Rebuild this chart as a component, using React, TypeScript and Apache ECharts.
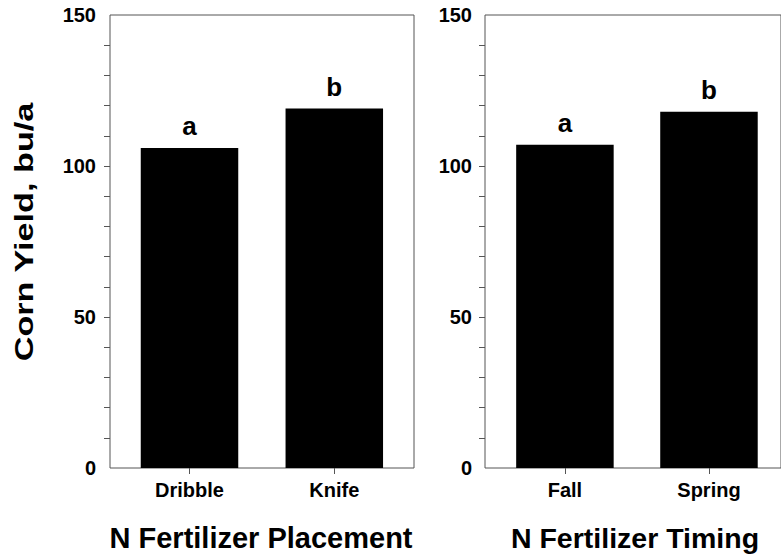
import React, { useEffect, useRef } from "react";
import * as echarts from "echarts";

const placementCategories = ["Dribble", "Knife"];
const placementYield = [106, 119];
const placementLetters = ["a", "b"];

const timingCategories = ["Fall", "Spring"];
const timingYield = [107, 118];
const timingLetters = ["a", "b"];

const yLabelValues = [0, 50, 100, 150];
const yTickValues = [10, 20, 30, 40, 50, 60, 70, 80, 90, 100, 110, 120, 130, 140];

const yTitle = "Corn Yield, bu/a";
const placementTitle = "N Fertilizer Placement";
const timingTitle = "N Fertilizer Timing";

const FONT = "'Liberation Sans', Arial, Helvetica, sans-serif";
const GRAY = "#555";

export default function App() {
  const ref = useRef<HTMLDivElement>(null);

  useEffect(() => {
    if (!ref.current) return;
    const chart = echarts.init(ref.current, undefined, { renderer: "svg" });

    const frameTop = 15;
    const frameHeight = 453;

    const frameYAxis = (gridIndex: number, margin: number) => ({
      type: "value",
      gridIndex,
      min: 0,
      max: 150,
      interval: 50,
      axisLine: { show: false },
      splitLine: { show: false },
      axisTick: {
        show: true,
        inside: false,
        length: 6,
        customValues: yTickValues,
        lineStyle: { color: GRAY, width: 1 },
      },
      axisLabel: {
        show: true,
        customValues: yLabelValues,
        margin,
        color: "#000",
        fontFamily: FONT,
        fontWeight: "bold",
        fontSize: 20,
        verticalAlign: "middle",
        padding: [6, 0, 0, 0],
      },
    });

    const hiddenValueY = (gridIndex: number) => ({
      type: "value",
      gridIndex,
      min: 0,
      max: 150,
      show: false,
    });

    const hiddenCatX = (gridIndex: number) => ({
      type: "category",
      gridIndex,
      data: ["", ""],
      show: false,
    });

    const barCatX = (gridIndex: number, data: string[]) => ({
      type: "category",
      gridIndex,
      data,
      axisLine: { show: false },
      axisTick: {
        show: true,
        alignWithLabel: true,
        length: 6,
        lineStyle: { color: GRAY, width: 1 },
      },
      axisLabel: {
        margin: 12,
        color: "#000",
        fontFamily: FONT,
        fontWeight: "bold",
        fontSize: 20,
      },
      splitLine: { show: false },
    });

    const barSeries = (idx: number, values: number[], letters: string[]) => ({
      type: "bar",
      xAxisIndex: idx,
      yAxisIndex: idx,
      barWidth: 97.5,
      itemStyle: { color: "#000" },
      label: {
        show: true,
        position: "top",
        distance: 9,
        color: "#000",
        fontFamily: FONT,
        fontWeight: "bold",
        fontSize: 26,
        formatter: (p: any) => letters[p.dataIndex],
      },
      data: values,
    });

    chart.setOption({
      animation: false,
      backgroundColor: "#fff",
      grid: [
        { left: 110, top: frameTop, width: 304, height: frameHeight, show: true, borderColor: GRAY, borderWidth: 1, backgroundColor: "transparent" },
        { left: 117.1, top: frameTop, width: 289.6, height: frameHeight },
        { left: 485, top: frameTop, width: 304, height: frameHeight, show: true, borderColor: GRAY, borderWidth: 1, backgroundColor: "transparent" },
        { left: 492.9, top: frameTop, width: 288.6, height: frameHeight },
      ],
      xAxis: [
        hiddenCatX(0),
        barCatX(1, placementCategories),
        hiddenCatX(2),
        barCatX(3, timingCategories),
      ],
      yAxis: [
        frameYAxis(0, 14),
        hiddenValueY(1),
        frameYAxis(2, 13),
        hiddenValueY(3),
      ],
      series: [
        { type: "bar", xAxisIndex: 0, yAxisIndex: 0, data: [] },
        barSeries(1, placementYield, placementLetters),
        { type: "bar", xAxisIndex: 2, yAxisIndex: 2, data: [] },
        barSeries(3, timingYield, timingLetters),
      ],
      graphic: [
        {
          type: "text",
          x: 24,
          y: 232,
          rotation: Math.PI / 2,
          scaleX: 1.37,
          style: {
            text: yTitle,
            font: `bold 25px ${FONT}`,
            fill: "#000",
            align: "center",
            verticalAlign: "middle",
          },
        },
        {
          type: "text",
          x: 261,
          y: 538,
          style: {
            text: placementTitle,
            font: `bold 29px ${FONT}`,
            fill: "#000",
            align: "center",
            verticalAlign: "middle",
          },
        },
        {
          type: "text",
          x: 635,
          y: 538,
          style: {
            text: timingTitle,
            font: `bold 28.5px ${FONT}`,
            fill: "#000",
            align: "center",
            verticalAlign: "middle",
          },
        },
      ],
    });

    return () => {
      chart.dispose();
    };
  }, []);

  return (
    <div
      ref={ref}
      style={{ position: "fixed", left: 0, top: 0, width: 781, height: 556, background: "#fff" }}
    />
  );
}
